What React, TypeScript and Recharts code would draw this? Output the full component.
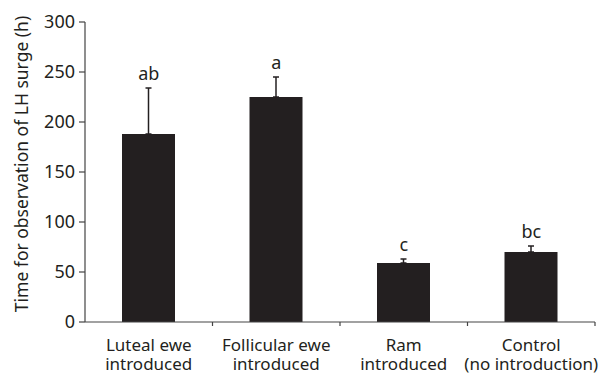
import { ComposedChart, Bar, ErrorBar, Line, LabelList, XAxis, YAxis, Label } from 'recharts';

const categories = [
  'Luteal ewe\nintroduced',
  'Follicular ewe\nintroduced',
  'Ram\nintroduced',
  'Control\n(no introduction)',
];
const means = [188, 225, 59, 70];
const errUp = [46, 20, 4, 6];
const letters = ['ab', 'a', 'c', 'bc'];
const yTicks = [0, 50, 100, 150, 200, 250, 300];

const INK = '#231f20';
const AXIS = '#444';
const FONT = '"Noto Sans", "Open Sans", sans-serif';

const data = categories.map((name, i) => ({
  name,
  mean: means[i],
  err: [0, errUp[i]],
  top: means[i] + errUp[i],
  sig: letters[i],
}));

// two-line category label + boundary tick at the right edge of each band
function CategoryTick(props: any) {
  const { x, y, payload } = props;
  const lines = String(payload.value).split('\n');
  const half = payload.offset ?? 0;
  return (
    <g>
      <line x1={x + half} x2={x + half} y1={y - 4} y2={y} stroke={AXIS} strokeWidth={1.2} />
      {lines.map((l, i) => (
        <text
          key={i}
          x={x}
          y={y + 24.5 + i * 19.5}
          textAnchor="middle"
          fill={INK}
          fontSize={17}
          fontFamily={FONT}
        >
          {l}
        </text>
      ))}
    </g>
  );
}

export default function App() {
  return (
    <div style={{ position: 'absolute', left: 0, top: 0, background: '#fff' }}>
      <ComposedChart
        width={615}
        height={374}
        data={data}
        margin={{ top: 22, right: 20, bottom: 0, left: 0 }}
        style={{ fontFamily: FONT }}
      >
        <XAxis
          dataKey="name"
          tick={<CategoryTick />}
          tickLine={false}
          tickSize={4}
          tickMargin={0}
          interval={0}
          axisLine={{ stroke: AXIS, strokeWidth: 1.2 }}
          height={52}
        />
        <YAxis
          width={85}
          domain={[0, 300]}
          ticks={yTicks}
          interval={0}
          tickSize={6}
          tickMargin={4}
          axisLine={{ stroke: AXIS, strokeWidth: 1.2 }}
          tickLine={{ stroke: AXIS, strokeWidth: 1.2 }}
          tick={{ fill: INK, fontSize: 18, fontFamily: FONT }}
        >
          <Label
            value="Time for observation of LH surge (h)"
            angle={-90}
            position="center"
            dx={-21}
            dy={-8}
            fill={INK}
            fontSize={17.5}
            fontFamily={FONT}
          />
        </YAxis>
        <Bar dataKey="mean" fill={INK} barSize={53} isAnimationActive={false}>
          <ErrorBar dataKey="err" width={3} stroke={INK} strokeWidth={1.5} direction="y" />
        </Bar>
        <Line
          dataKey="top"
          stroke="none"
          dot={false}
          activeDot={false}
          legendType="none"
          isAnimationActive={false}
        >
          <LabelList dataKey="sig" position="top" offset={8} fill={INK} fontSize={18} fontFamily={FONT} />
        </Line>
      </ComposedChart>
    </div>
  );
}
